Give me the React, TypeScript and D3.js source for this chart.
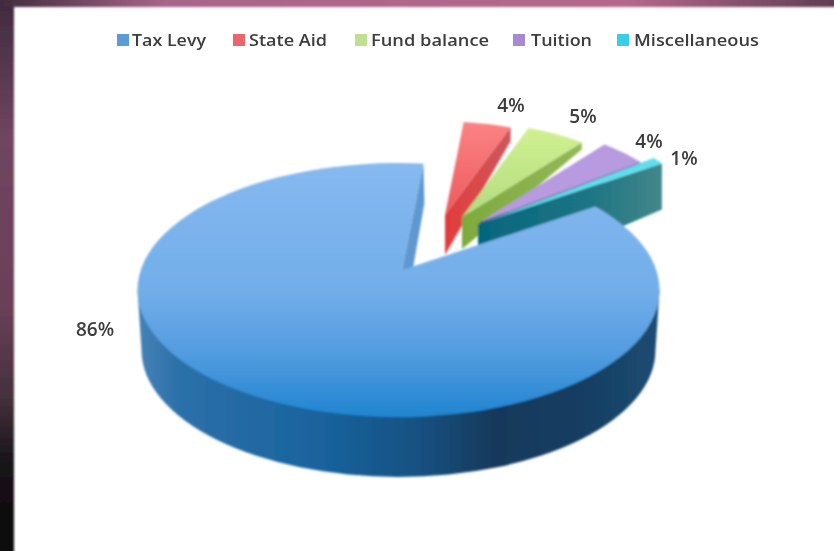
import React from "react";
import * as d3 from "d3";

const categories = ["Tax Levy", "State Aid", "Fund balance", "Tuition", "Miscellaneous"];
const shares = [86, 4, 5, 4, 1];
const percentLabels = ["86%", "4%", "5%", "4%", "1%"];

// layout only
const W = 834, H = 551;
const A = 261, B = 127;                // unit radius of the pie on screen
const ellipse = { cx: 398.5, cy: 290 };
const pivot = { x: 421, y: 258 };
const shifts = [[-19, 12], [24, -43], [41, -41], [59, -36], [57, -34]];
const reach = [1, 0.735, 0.745, 0.775, 0.85];
const depthNear = [60, 40, 32, 20, 64];
const depthFar = [40, 14, 7, 3, 46];
const labelPos = [[95, 329], [511, 105], [583, 116], [649, 141], [684, 158]];
const legendMark = [117, 233, 355, 513, 617];
const legendText = [132, 249, 371, 531, 634];
const legendWidth = [74, 78, 118, 61, 125];

const topColor = ["url(#mainTop)", "url(#redTop)", "url(#greenTop)", "#b79ae0", "#5fdfee"];
const wallColor = ["#5f97cf", "url(#redWall)", "url(#greenWall)", "url(#purpleWall)", "url(#cyanWall)"];
const legendColor = ["#5b9bd5", "#e9666e", "#bfe08e", "#a78ad0", "#37cfe4"];

const pie = d3.pie<number>().sort(null)
  .startAngle((56 * Math.PI) / 180)
  .endAngle(((56 + 360) * Math.PI) / 180);
const slices = pie(shares);

const fmt = (p: number[]) => `${p[0].toFixed(1)},${p[1].toFixed(1)}`;

function rayToEllipse(apex: number[], t: number) {
  const px = (apex[0] - ellipse.cx) / A, py = (apex[1] - ellipse.cy) / B;
  const dx = Math.sin(t), dy = -Math.cos(t);
  const pd = px * dx + py * dy, pp = px * px + py * py;
  const k = -pd + Math.sqrt(pd * pd - (pp - 1));
  return [ellipse.cx + (px + k * dx) * A, ellipse.cy + (py + k * dy) * B];
}

function outerPoint(i: number, t: number) {
  const apex = [pivot.x + shifts[i][0], pivot.y + shifts[i][1]];
  if (i === 0) return rayToEllipse(apex, t);
  return [apex[0] + reach[i] * A * Math.sin(t), apex[1] - reach[i] * B * Math.cos(t)];
}

export default function App() {
  const order = [1, 2, 3, 4];
  const apexOf = (i: number) => [pivot.x + shifts[i][0], pivot.y + shifts[i][1]];

  const smallTop = (i: number) => {
    const s = slices[i], a = apexOf(i);
    const p0 = outerPoint(i, s.startAngle), p1 = outerPoint(i, s.endAngle);
    return `M${fmt(a)}L${fmt(p0)}A${reach[i] * A},${reach[i] * B} 0 0 1 ${fmt(p1)}Z`;
  };
  const smallWall = (i: number) => {
    const s = slices[i], a = apexOf(i);
    const p1 = outerPoint(i, s.endAngle);
    return `M${fmt(a)}L${fmt(p1)}L${fmt([p1[0], p1[1] + depthFar[i]])}L${fmt([a[0], a[1] + depthNear[i]])}Z`;
  };

  const m = slices[0], mApex = apexOf(0);
  const m0 = outerPoint(0, m.startAngle), m1 = outerPoint(0, m.endAngle);
  const mainTop = `M${fmt(mApex)}L${fmt(m0)}A${A},${B} 0 1 1 ${fmt(m1)}Z`;
  const mainWall = `M${fmt(mApex)}L${fmt(m1)}L${fmt([m1[0] + 1, m1[1] + depthFar[0]])}L${fmt([mApex[0], mApex[1] + depthNear[0]])}Z`;
  const l = [ellipse.cx - A, ellipse.cy], r = [ellipse.cx + A, ellipse.cy];
  const sa = A - 4, sy = ellipse.cy + depthNear[0];
  const mainSide = `M${fmt(l)}L${fmt([ellipse.cx - sa, sy])}A${sa},${B} 0 0 0 ${fmt([ellipse.cx + sa, sy])}L${fmt(r)}Z`;

  return (
    <svg width={W} height={H} viewBox={`0 0 ${W} ${H}`}
      style={{ position: "fixed", left: 0, top: 0, display: "block" }}>
      <defs>
        <filter id="soft" x="-5%" y="-5%" width="110%" height="110%">
          <feGaussianBlur stdDeviation="0.9" />
        </filter>
        <filter id="softer" x="-5%" y="-20%" width="110%" height="140%">
          <feGaussianBlur stdDeviation="0.7" />
        </filter>
        <linearGradient id="band" x1="0" x2="0" y1="0" y2="1">
          <stop offset="0" stopColor="#3f2a3c" />
          <stop offset="0.25" stopColor="#6f455f" />
          <stop offset="0.55" stopColor="#6b4159" />
          <stop offset="0.72" stopColor="#44303c" />
          <stop offset="0.85" stopColor="#141214" />
          <stop offset="1" stopColor="#0e0e0e" />
        </linearGradient>
        <linearGradient id="bandTop" x1="0" x2="1" y1="0" y2="0">
          <stop offset="0" stopColor="#3f2a3c" />
          <stop offset="0.2" stopColor="#a8658a" />
          <stop offset="0.75" stopColor="#b4688a" />
          <stop offset="1" stopColor="#5f3d52" />
        </linearGradient>
        <linearGradient id="mainTop" gradientUnits="userSpaceOnUse" x1="0" x2="0" y1="163" y2="418">
          <stop offset="0" stopColor="#86b9f0" />
          <stop offset="0.5" stopColor="#72aeea" />
          <stop offset="0.75" stopColor="#529cdf" />
          <stop offset="1" stopColor="#1f84d0" />
        </linearGradient>
        <linearGradient id="mainSide" gradientUnits="userSpaceOnUse" x1="137" x2="660" y1="0" y2="0">
          <stop offset="0" stopColor="#4683b6" />
          <stop offset="0.08" stopColor="#2c70a9" />
          <stop offset="0.35" stopColor="#1a639e" />
          <stop offset="0.55" stopColor="#15507f" />
          <stop offset="0.68" stopColor="#12395c" />
          <stop offset="0.85" stopColor="#153e62" />
          <stop offset="1" stopColor="#1d4c72" />
        </linearGradient>
        <linearGradient id="redTop" x1="0" x2="0" y1="0" y2="1">
          <stop offset="0" stopColor="#fc8283" />
          <stop offset="1" stopColor="#ec5a5e" />
        </linearGradient>
        <linearGradient id="redWall" gradientUnits="userSpaceOnUse" x1="445" x2="515" y1="0" y2="0">
          <stop offset="0" stopColor="#e23c3c" />
          <stop offset="1" stopColor="#cc5a5e" />
        </linearGradient>
        <linearGradient id="greenTop" x1="0" x2="0" y1="0" y2="1">
          <stop offset="0" stopColor="#d0f090" />
          <stop offset="1" stopColor="#b2dc80" />
        </linearGradient>
        <linearGradient id="greenWall" gradientUnits="userSpaceOnUse" x1="462" x2="585" y1="0" y2="0">
          <stop offset="0" stopColor="#7eaa3c" />
          <stop offset="1" stopColor="#94b85a" />
        </linearGradient>
        <linearGradient id="purpleWall" gradientUnits="userSpaceOnUse" x1="478" x2="645" y1="0" y2="0">
          <stop offset="0" stopColor="#2c2f7c" />
          <stop offset="1" stopColor="#68388e" />
        </linearGradient>
        <linearGradient id="cyanWall" gradientUnits="userSpaceOnUse" x1="478" x2="662" y1="0" y2="0">
          <stop offset="0" stopColor="#04667e" />
          <stop offset="0.6" stopColor="#1d7584" />
          <stop offset="1" stopColor="#43868a" />
        </linearGradient>
      </defs>

      <rect width={W} height={H} fill="#ffffff" />
      <g filter="url(#soft)">
        <rect x={-3} y={-3} width={17} height={H + 6} fill="url(#band)" />
        <rect x={-3} y={-3} width={W + 6} height={10} fill="url(#bandTop)" />
      </g>

      <g filter="url(#soft)">
        {order.map((i) => (
          <g key={categories[i]}>
            <path d={smallWall(i)} fill={wallColor[i]} />
            <path d={smallTop(i)} fill={topColor[i]} />
          </g>
        ))}
        <path d={mainWall} fill={wallColor[0]} />
        <path d={mainSide} fill="url(#mainSide)" />
        <path d={mainTop} fill={topColor[0]} />
      </g>

      <g filter="url(#softer)" fontFamily="'Open Sans', Lato, sans-serif" fill="#3c3c3c">
        {categories.map((c, i) => (
          <g key={c}>
            <rect x={legendMark[i]} y={34} width={12} height={12} fill={legendColor[i]} />
            <text x={legendText[i]} y={46} fontSize={17} fontWeight={600}
              textLength={legendWidth[i]} lengthAdjust="spacingAndGlyphs">{c}</text>
          </g>
        ))}
        {percentLabels.map((t, i) => (
          <text key={i} x={labelPos[i][0]} y={labelPos[i][1] + 7} fontSize={19} fontWeight={600}
            textAnchor="middle">{t}</text>
        ))}
      </g>
    </svg>
  );
}
